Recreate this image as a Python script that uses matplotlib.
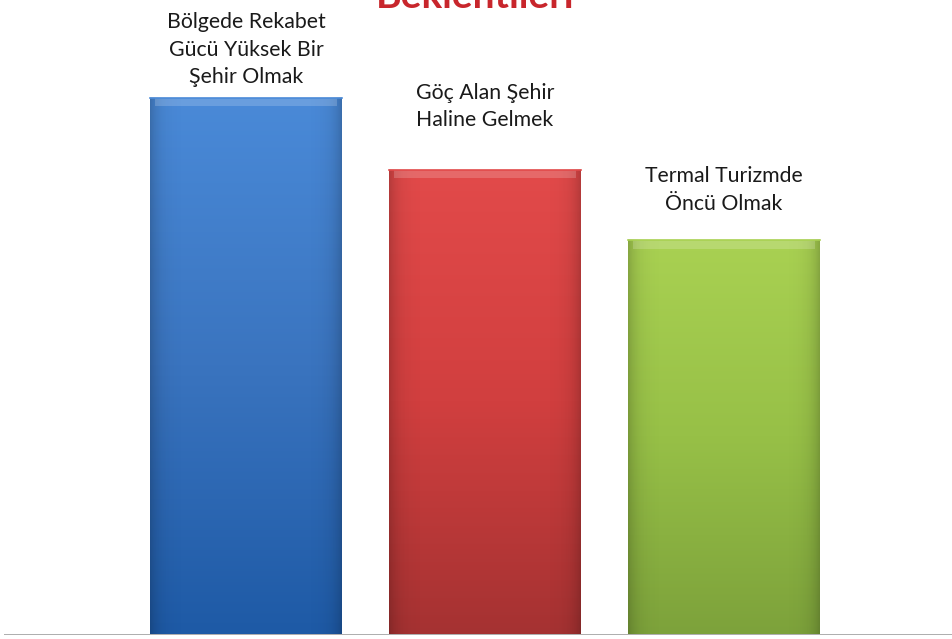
import numpy as np
import matplotlib
matplotlib.use("Agg")
import matplotlib.pyplot as plt
from matplotlib.colors import LinearSegmentedColormap

categories = ["Bölgede Rekabet\nGücü Yüksek Bir\nŞehir Olmak",
              "Göç Alan Şehir\nHaline Gelmek",
              "Termal Turizmde\nÖncü Olmak"]
values = [100.0, 86.6, 73.4]
title = "Beklentileri"

top_colors = ["#4a8ad8", "#e24a4a", "#a9d152"]
mid_colors = ["#3a74bf", "#d13f3f", "#97c047"]
bot_colors = ["#1e5aa6", "#a53232", "#7da23b"]
label_offsets_pt = [7.7, 28.6, 19.2]

plt.rcParams['font.family'] = ['Lato', 'DejaVu Sans']

fig = plt.figure(figsize=(9.53, 6.39), dpi=100)
ax = fig.add_axes([4/953, 4.5/639, 949/953, 634.5/639])
ax.set_xlim(-1.0126, 2.958)
ax.set_ylim(0, 118.2)
ax.axis('off')

x = np.arange(len(categories))
width = 0.803
bars = ax.bar(x, values, width=width, color='none', edgecolor='none', zorder=2)

for i, b in enumerate(bars):
    cmap = LinearSegmentedColormap.from_list(
        f"g{i}", [bot_colors[i], mid_colors[i], top_colors[i]])
    grad = np.linspace(0, 1, 256).reshape(-1, 1)
    x0, y0 = b.get_x(), b.get_y()
    w, h = b.get_width(), b.get_height()
    im = ax.imshow(grad, cmap=cmap, origin='lower', aspect='auto',
                   extent=[x0, x0 + w, y0, y0 + h], zorder=2)
    im.set_clip_path(b)
    # horizontal shading (darker sides)
    side = np.abs(np.linspace(-1, 1, 256)).reshape(1, -1) ** 10
    ax.imshow(side, cmap=LinearSegmentedColormap.from_list(
        "s", [(0, 0, 0, 0), (0, 0, 0, 0.2)]), aspect='auto',
        extent=[x0, x0 + w, y0, y0 + h], zorder=3)
    # top highlight band
    hb = 1.6
    ax.fill_between([x0 + 0.02, x0 + w - 0.02], y0 + h - hb, y0 + h,
                    color='white', alpha=0.18, linewidth=0, zorder=4)
    ax.plot([x0, x0 + w], [y0 + h, y0 + h], color=top_colors[i],
            lw=1.2, zorder=5)
    ax.annotate(categories[i], xy=(x[i], values[i]),
                xytext=(0, label_offsets_pt[i]), textcoords='offset points',
                ha='center', va='bottom', fontsize=15.3, color='#1a1a1a',
                linespacing=1.46, zorder=6)

ax.axhline(0, color='#a6a6a6', lw=2, zorder=7)

fig.text(475/953, 1 - 8/639, title, ha='center', va='baseline',
         fontsize=28, fontweight='bold', color='#c8262c')

fig.savefig("out.png", dpi=100)
